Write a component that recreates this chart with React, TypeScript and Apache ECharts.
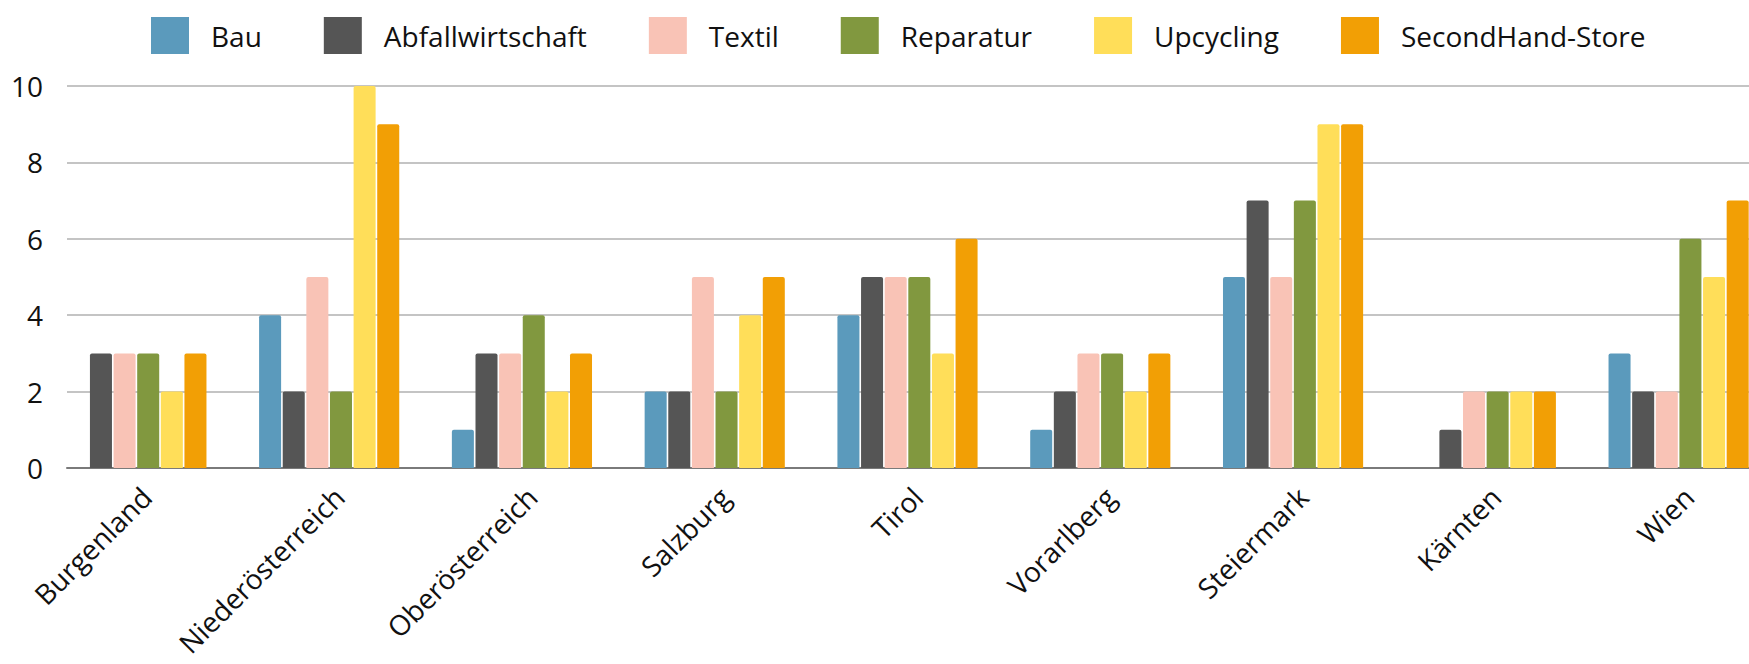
import React, { useEffect, useRef } from "react";
import * as echarts from "echarts";

const categories = [
  "Burgenland",
  "Niederösterreich",
  "Oberösterreich",
  "Salzburg",
  "Tirol",
  "Vorarlberg",
  "Steiermark",
  "Kärnten",
  "Wien",
];

const seriesNames = ["Bau", "Abfallwirtschaft", "Textil", "Reparatur", "Upcycling", "SecondHand-Store"];

const bau = [0, 4, 1, 2, 4, 1, 5, 0, 3];
const abfallwirtschaft = [3, 2, 3, 2, 5, 2, 7, 1, 2];
const textil = [3, 5, 3, 5, 5, 3, 5, 2, 2];
const reparatur = [3, 2, 4, 2, 5, 3, 7, 2, 6];
const upcycling = [2, 10, 2, 4, 3, 2, 9, 2, 5];
const secondHand = [3, 9, 3, 5, 6, 3, 9, 2, 7];

const seriesValues = [bau, abfallwirtschaft, textil, reparatur, upcycling, secondHand];
const colors = ["#5B9ABC", "#555555", "#F9C3B6", "#81983F", "#FFDE59", "#F29F05"];

const FONT = "'Open Sans', 'Noto Sans', sans-serif";

export default function App() {
  const ref = useRef<HTMLDivElement>(null);

  useEffect(() => {
    document.body.style.margin = "0";
    if (!ref.current) return;
    const chart = echarts.init(ref.current, undefined, { renderer: "svg" });

    const option: any = {
      animation: false,
      backgroundColor: "#ffffff",
      legend: {
        top: 12,
        left: 146,
        icon: "rect",
        itemWidth: 38,
        itemHeight: 37,
        itemGap: 62,
        data: seriesNames,
        textStyle: {
          fontFamily: FONT,
          fontSize: 28,
          color: "#111111",
          padding: [0, 0, 0, 17],
        },
      },
      grid: [
        { left: 40, right: -26, top: 86, bottom: 196, containLabel: false, outerBoundsMode: "none" },
        { left: 67, right: 0, top: 86, bottom: 196, containLabel: false, outerBoundsMode: "none" },
      ],
      xAxis: [
        {
          type: "category",
          gridIndex: 0,
          data: categories,
          axisLine: { show: false },
          axisTick: { show: false },
          axisLabel: {
            rotate: 45,
            margin: 14,
            verticalAlign: "top",
            fontFamily: FONT,
            fontSize: 28,
            color: "#111111",
            interval: 0,
          },
        },
        {
          type: "category",
          gridIndex: 1,
          data: categories,
          axisLine: { show: true, lineStyle: { color: "#7a7a7a", width: 2 } },
          axisTick: { show: false },
          axisLabel: { show: false },
        },
      ],
      yAxis: [
        {
          type: "value",
          gridIndex: 0,
          min: 0,
          max: 10,
          interval: 2,
          axisLabel: { show: false },
          splitLine: { show: false },
          axisLine: { show: false },
          axisTick: { show: false },
        },
        {
          type: "value",
          gridIndex: 1,
          min: 0,
          max: 10,
          interval: 2,
          axisLabel: {
            margin: 24,
            fontFamily: FONT,
            fontSize: 28,
            color: "#111111",
          },
          splitLine: { show: true, lineStyle: { color: "#c4c4c4", width: 2 } },
          axisLine: { show: false },
          axisTick: { show: false },
        },
      ],
      series: seriesNames.map((name, i) => ({
        name,
        type: "bar",
        xAxisIndex: 0,
        yAxisIndex: 0,
        data: seriesValues[i],
        barGap: "7.3%",
        barCategoryGap: "27.3%",
        itemStyle: { color: colors[i], borderRadius: [2, 2, 0, 0] },
      })),
    };

    chart.setOption(option);
    return () => chart.dispose();
  }, []);

  return <div ref={ref} style={{ width: 1749, height: 664 }} />;
}
